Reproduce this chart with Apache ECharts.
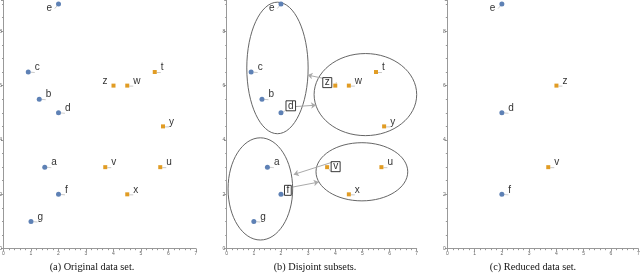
<!DOCTYPE html>
<html><head><meta charset="utf-8">
<script src="https://cdn.jsdelivr.net/npm/echarts@6/dist/echarts.min.js"></script>
<style>html,body{margin:0;padding:0;background:#fff}#c{width:640px;height:275px}</style>
</head><body><div id="c"></div>
<script>
// ---- data ----
const blueNames = ['a','b','c','d','e','f','g'];
const blueX = [1.5, 1.3, 0.9, 2, 2, 2, 1];
const blueY = [3, 5.5, 6.5, 5, 9, 2, 1];
const orangeNames = ['t','u','v','w','x','y','z'];
const orangeX = [5.5, 5.7, 3.7, 4.5, 4.5, 5.8, 4];
const orangeY = [6.5, 3, 3, 6, 2, 4.5, 6];
const reducedNames = ['d','e','f','v','z'];
const boxedNames = ['d','f','v','z'];
const ellipseCX = [1.87, 5.11, 1.24, 4.98];
const ellipseCY = [6.65, 5.67, 2.2, 2.83];
const ellipseRX = [1.13, 1.89, 1.19, 1.69];
const ellipseRY = [2.42, 1.51, 1.88, 1.07];
const arrowFromX = [3.54, 2.54, 3.88, 2.44];
const arrowFromY = [6.27, 5.23, 3.18, 2.27];
const arrowToX = [2.98, 3.29, 2.47, 3.39];
const arrowToY = [6.39, 5.28, 2.73, 2.45];
const xTickLabels = ['0','1','2','3','4','5','6','7'];
const yTickLabels = ['0','2','4','6','8'];
const captions = ['(a) Original data set.', '(b) Disjoint subsets.', '(c) Reduced data set.'];

// ---- style ----
const BLUE = '#5E81B5', ORANGE = '#E19C24';
const grids = [
  {left: 3.5, width: 192.5},
  {left: 226.7, width: 190},
  {left: 447.3, width: 191}
];
const captionX = [92, 315, 533];
const Y_MAX = 9.15;

function labelFor(name, panel) {
  const base = {show: true, formatter: '{b}', color: '#333', fontSize: 10,
    fontFamily: 'Liberation Sans', position: 'right', distance: 4, offset: [0, -4.5]};
  if (name === 'e') return Object.assign(base, {position: 'left', offset: [0, 4.5]});
  if (panel === 1 && boxedNames.includes(name)) {
    const box = {borderColor: '#222', borderWidth: 0.9, padding: [0, 2, 0, 2], lineHeight: 10};
    const spec = {
      d: {position: 'right', distance: 2.5, offset: [0, -7]},
      z: {position: 'left', distance: 1.5, offset: [0, -3]},
      v: {position: 'right', distance: 2, offset: [0, -0.5]},
      f: {position: 'right', distance: 1, offset: [0, -4]}
    }[name];
    return Object.assign(base, box, spec);
  }
  if (name === 'z' && panel === 0) return Object.assign(base, {position: 'left', offset: [0, -4.5]});
  return base;
}

function pts(names, xs, ys, panel, filter) {
  const out = [];
  names.forEach((n, i) => {
    if (filter && !filter.includes(n)) return;
    out.push({name: n, value: [xs[i], ys[i]], label: labelFor(n, panel)});
  });
  return out;
}

const xAxes = [], yAxes = [], series = [];
for (let p = 0; p < 3; p++) {
  xAxes.push({
    gridIndex: p, type: 'value', min: 0, max: 7, interval: 1,
    axisLine: {show: true, onZero: false, lineStyle: {color: '#999', width: 1}},
    axisTick: {show: true, length: 2.5, lineStyle: {color: '#999'}},
    minorTick: {show: true, splitNumber: 5, length: 1.5, lineStyle: {color: '#999'}},
    axisLabel: {fontSize: 5, color: '#666', margin: 2,
      formatter: v => xTickLabels[Math.round(v)] || ''},
    splitLine: {show: false}
  });
  yAxes.push({
    gridIndex: p, type: 'value', min: 0, max: Y_MAX, interval: 2,
    axisLine: {show: true, onZero: false, lineStyle: {color: '#999', width: 1}},
    axisTick: {show: true, length: 2.5, lineStyle: {color: '#999'}},
    minorTick: {show: true, splitNumber: 4, length: 1.5, lineStyle: {color: '#999'}},
    axisLabel: {fontSize: 5, color: '#666', margin: 1.5, showMaxLabel: false,
      formatter: v => (Math.abs(v - Math.round(v)) < 1e-6 && v % 2 === 0) ? (yTickLabels[v / 2] || '') : ''},
    splitLine: {show: false}
  });
  const filter = p === 2 ? reducedNames : null;
  const labelLine = {show: true, smooth: 0.5, lineStyle: {color: '#bbb', width: 0.8}};
  series.push({
    type: 'scatter', xAxisIndex: p, yAxisIndex: p, symbol: 'circle', symbolSize: 5,
    itemStyle: {color: BLUE, opacity: 1}, labelLine, z: 3,
    data: pts(blueNames, blueX, blueY, p, filter)
  });
  series.push({
    type: 'scatter', xAxisIndex: p, yAxisIndex: p, symbol: 'rect', symbolSize: 4,
    itemStyle: {color: ORANGE, opacity: 1}, labelLine, z: 3,
    data: pts(orangeNames, orangeX, orangeY, p, filter)
  });
}

series.push({
  type: 'custom', xAxisIndex: 1, yAxisIndex: 1, silent: true, z: 1,
  data: ellipseCX.map((cx, i) => [cx, ellipseCY[i], ellipseRX[i], ellipseRY[i]]),
  renderItem: function (params, api) {
    const c = api.coord([api.value(0), api.value(1)]);
    const s = api.size([api.value(2), api.value(3)]);
    return {type: 'ellipse', shape: {cx: c[0], cy: c[1], rx: s[0], ry: s[1]},
      style: {fill: 'none', stroke: '#555', lineWidth: 0.9}};
  }
});
series.push({
  type: 'lines', coordinateSystem: 'cartesian2d', xAxisIndex: 1, yAxisIndex: 1, silent: true, z: 2,
  symbol: ['none', 'arrow'], symbolSize: 5,
  lineStyle: {color: '#aaa', width: 1, opacity: 1},
  data: arrowFromX.map((x, i) => ({coords: [[x, arrowFromY[i]], [arrowToX[i], arrowToY[i]]]}))
});

const chart = echarts.init(document.getElementById('c'), null, {renderer: 'canvas'});
chart.setOption({
  animation: false,
  backgroundColor: '#fff',
  grid: grids.map(g => ({left: g.left, width: g.width, top: 0, bottom: 26.3,
    containLabel: false, outerBoundsMode: 'none'})),
  xAxis: xAxes, yAxis: yAxes, series: series,
  graphic: captions.map((t, i) => ({
    type: 'text', x: captionX[i], y: 267,
    style: {text: t, font: '10.3px "Liberation Serif"', fill: '#111', align: 'center', verticalAlign: 'middle'}
  }))
});
</script></body></html>
